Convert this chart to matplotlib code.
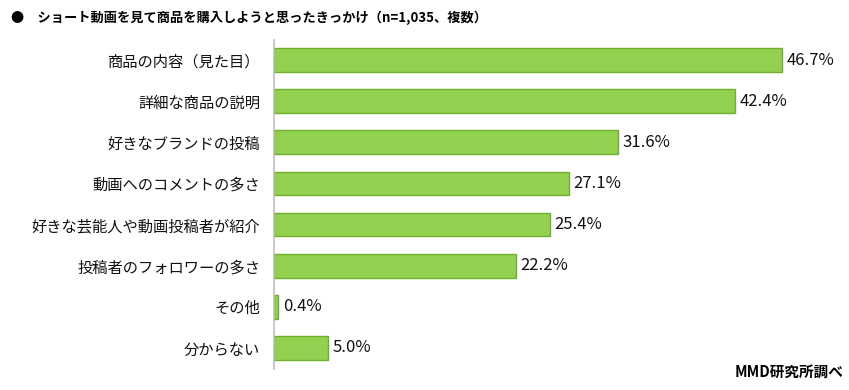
import matplotlib
matplotlib.use("Agg")
import matplotlib.pyplot as plt

plt.rcParams['font.family'] = ['Noto Sans CJK JP', 'DejaVu Sans']

categories = ["商品の内容（見た目）", "詳細な商品の説明", "好きなブランドの投稿", "動画へのコメントの多さ",
              "好きな芸能人や動画投稿者が紹介", "投稿者のフォロワーの多さ", "その他", "分からない"]
values = [46.7, 42.4, 31.6, 27.1, 25.4, 22.2, 0.4, 5.0]
title = "●　ショート動画を見て商品を購入しようと思ったきっかけ（n=1,035、複数）"
source = "MMD研究所調べ"

fig = plt.figure(figsize=(8.49, 3.9), dpi=100)
ax = fig.add_axes([274/849, 1 - 368.5/390, 544/849, 329/390])
y = list(range(len(categories)))
ax.barh(y, values, height=0.58, color="#92D050", edgecolor="#6FB02A", linewidth=1.0)
ax.set_ylim(len(categories) - 0.5, -0.5)
ax.set_xlim(0, 50)
ax.set_yticks(y)
ax.set_yticklabels(categories, fontsize=11, color="#111111")
ax.tick_params(axis='y', length=0, pad=10)
ax.set_xticks([])
for s in ["top", "right", "bottom"]:
    ax.spines[s].set_visible(False)
ax.spines["left"].set_color("#BFBFBF")
ax.spines["left"].set_linewidth(1.2)
for yi, v in zip(y, values):
    ax.text(v + 0.4, yi, f"{v:.1f}%", va="center", ha="left", fontsize=12, color="#111111")

fig.text(11/849, 1 - 18/390, title, fontsize=9.5, fontweight="bold", va="center", ha="left")
fig.text(843/849, 1 - 372/390, source, fontsize=10.5, fontweight="bold", va="center", ha="right")

fig.savefig("out.png", dpi=100)
